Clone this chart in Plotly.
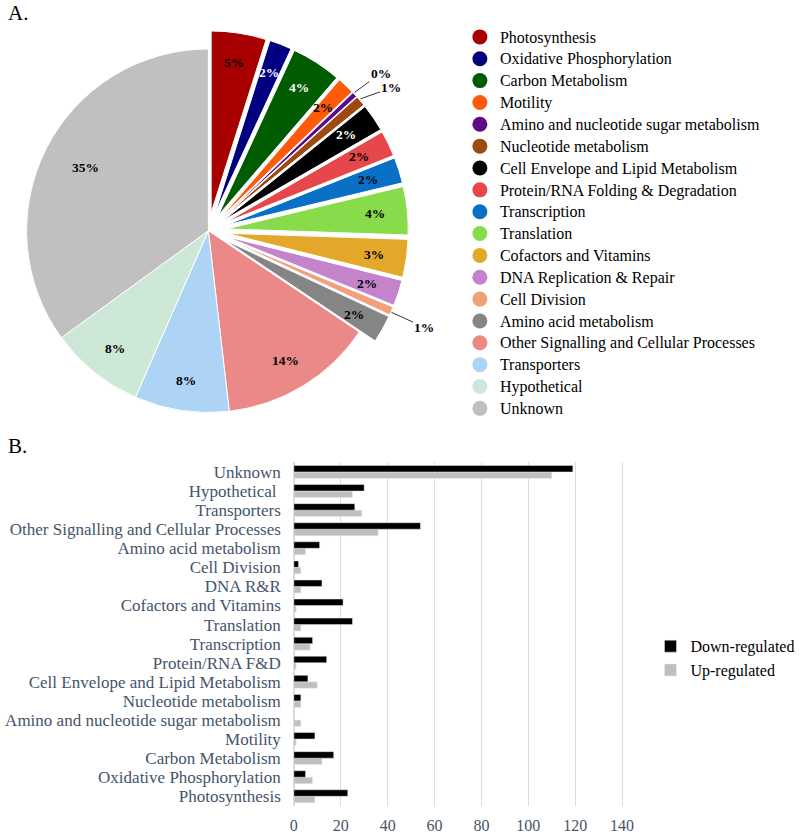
import math
import plotly.graph_objects as go

W, H = 800, 834

# ---------------- data ----------------
categories = ["Photosynthesis", "Oxidative Phosphorylation", "Carbon Metabolism", "Motility",
              "Amino and nucleotide sugar metabolism", "Nucleotide metabolism",
              "Cell Envelope and Lipid Metabolism", "Protein/RNA Folding & Degradation",
              "Transcription", "Translation", "Cofactors and Vitamins", "DNA Replication & Repair",
              "Cell Division", "Amino acid metabolism", "Other Signalling and Cellular Processes",
              "Transporters", "Hypothetical", "Unknown"]

bar_labels = ["Photosynthesis", "Oxidative Phosphorylation", "Carbon Metabolism", "Motility",
              "Amino and nucleotide sugar metabolism", "Nucleotide metabolism",
              "Cell Envelope and Lipid Metabolism", "Protein/RNA F&D",
              "Transcription", "Translation", "Cofactors and Vitamins", "DNA R&R",
              "Cell Division", "Amino acid metabolism", "Other Signalling and Cellular Processes",
              "Transporters", "Hypothetical\u00a0", "Unknown"]

down_regulated = [23, 5, 17, 9, 0, 3, 6, 14, 8, 25, 21, 12, 2, 11, 54, 26, 30, 119]
up_regulated = [9, 8, 12, 1, 3, 3, 10, 1, 7, 3, 1, 3, 3, 5, 36, 29, 25, 110]
pie_counts = [32, 13, 29, 10, 3, 6, 16, 15, 15, 28, 22, 15, 5, 16, 90, 55, 55, 229]

colors = ["#A80000", "#000080", "#005C00", "#FF5A0A", "#5C0A8A", "#9C4A12", "#000000",
          "#E6474B", "#0A70C6", "#88DB4A", "#E3A82A", "#C583CC", "#F2A07A", "#858585",
          "#EB8989", "#ADD3F5", "#CEE8D8", "#C0C0C0"]

pulled = ["Photosynthesis", "Oxidative Phosphorylation", "Carbon Metabolism", "Motility",
          "Amino and nucleotide sugar metabolism", "Nucleotide metabolism",
          "Cell Envelope and Lipid Metabolism", "Protein/RNA Folding & Degradation",
          "Transcription", "Translation", "Cofactors and Vitamins", "DNA Replication & Repair",
          "Cell Division", "Amino acid metabolism"]
white_text = ["Oxidative Phosphorylation", "Carbon Metabolism", "Cell Envelope and Lipid Metabolism"]
outside_offsets = {"Amino and nucleotide sugar metabolism": (26, -19),
                   "Nucleotide metabolism": (31, -11),
                   "Cell Division": (33, 15)}
label_radius_override = {"Unknown": 0.76}

# ---------------- layout constants ----------------
CX, CY, R, PULL = 208, 231, 185, 0.1
SERIF = "Liberation Serif, Times New Roman, serif"

pulls = [PULL if c in pulled else 0 for c in categories]
ext = R * (1 + PULL)
pie_domain_x = [(CX - ext) / W, (CX + ext) / W]
pie_domain_y = [1 - (CY + ext) / H, 1 - (CY - ext) / H]

fig = go.Figure()

fig.add_trace(go.Pie(
    labels=categories, values=pie_counts, sort=False, direction="clockwise", rotation=0,
    pull=pulls, marker=dict(colors=colors, line=dict(color="white", width=1)),
    textinfo="none", showlegend=False, domain=dict(x=pie_domain_x, y=pie_domain_y),
    hoverinfo="label+percent"))

# legend entries (circle markers) for the pie
for i, c in enumerate(categories):
    fig.add_trace(go.Scatter(x=[None], y=[None], mode="markers",
                             name=f'<span style="font-size:16px">{c}</span>',
                             marker=dict(color=colors[i], size=15, symbol="circle"),
                             legend="legend", legendgroup=c, showlegend=True))

# percentage labels computed from data
total = sum(pie_counts)
annotations = []
cum = 0
for i, c in enumerate(categories):
    v = pie_counts[i]
    mid = (cum + v / 2) / total * 2 * math.pi
    cum += v
    pct = f"{round(100 * v / total)}%"
    off = pulls[i] * R
    if c in outside_offsets:
        rr = R + off
        px = CX + rr * math.sin(mid)
        py = CY - rr * math.cos(mid)
        ax, ay = outside_offsets[c]
        annotations.append(dict(x=px / W, y=1 - py / H, xref="paper", yref="paper",
                                text=f"<b>{pct}</b>", showarrow=True, ax=ax, ay=ay,
                                arrowhead=0, arrowwidth=1, arrowcolor="#333333",
                                xanchor="center", yanchor="middle",
                                font=dict(family=SERIF, size=13.5, color="#000000")))
    else:
        rr = R * label_radius_override.get(c, 0.82) + off
        px = CX + rr * math.sin(mid)
        py = CY - rr * math.cos(mid)
        annotations.append(dict(x=px / W, y=1 - py / H, xref="paper", yref="paper",
                                text=f"<b>{pct}</b>", showarrow=False,
                                xanchor="center", yanchor="middle",
                                font=dict(family=SERIF, size=13.5,
                                          color="white" if c in white_text else "#000000")))

annotations.append(dict(x=0.002, y=1 - 13 / H, xref="paper", yref="paper", text="A.",
                        showarrow=False, xanchor="left", yanchor="middle",
                        font=dict(family=SERIF, size=21, color="#000000")))
annotations.append(dict(x=0.002, y=1 - 447 / H, xref="paper", yref="paper", text="B.",
                        showarrow=False, xanchor="left", yanchor="middle",
                        font=dict(family=SERIF, size=21, color="#000000")))

# ---------------- bar chart ----------------
fig.add_trace(go.Bar(y=bar_labels, x=up_regulated, orientation="h", name="Up-regulated",
                     marker=dict(color="#BFBFBF"), legend="legend2", legendrank=2))
fig.add_trace(go.Bar(y=bar_labels, x=down_regulated, orientation="h", name="Down-regulated",
                     marker=dict(color="#000000"), legend="legend2", legendrank=1))

AXIS_COLOR = "#44546A"
fig.update_layout(
    width=W, height=H, margin=dict(l=0, r=0, t=0, b=0),
    paper_bgcolor="white", plot_bgcolor="white",
    barmode="group", bargap=0.32, bargroupgap=0,
    font=dict(family=SERIF, color="#000000"),
    xaxis=dict(domain=[295 / W, 631.5 / W], range=[0, 141], dtick=20, showgrid=True,
               gridcolor="#D9DCE6", gridwidth=1, zeroline=True, zerolinecolor="#D9DCE6",
               showline=False, ticks="", ticklabelstandoff=8,
               tickfont=dict(family=SERIF, size=16, color=AXIS_COLOR), anchor="y"),
    yaxis=dict(domain=[1 - 806.8 / H, 1 - 463 / H], type="category",
               categoryorder="array", categoryarray=bar_labels,
               tickmode="linear", dtick=1,
               showgrid=False, showline=False, ticks="", ticklabelstandoff=12,
               tickfont=dict(family=SERIF, size=17, color=AXIS_COLOR), anchor="x"),
    legend=dict(x=464 / W, y=1 - 21 / H, xanchor="left", yanchor="top",
                font=dict(family=SERIF, size=14.5, color="#000000"),
                bgcolor="rgba(0,0,0,0)", tracegroupgap=0, itemclick=False),
    legend2=dict(x=658 / W, y=1 - 630 / H, xanchor="left", yanchor="top",
                 font=dict(family=SERIF, size=16, color="#000000"),
                 bgcolor="rgba(0,0,0,0)", traceorder="normal"),
    annotations=annotations,
)

fig.write_html("out.html", config={"displayModeBar": False},
               post_script="document.body.style.margin='0';document.body.style.padding='0';")
